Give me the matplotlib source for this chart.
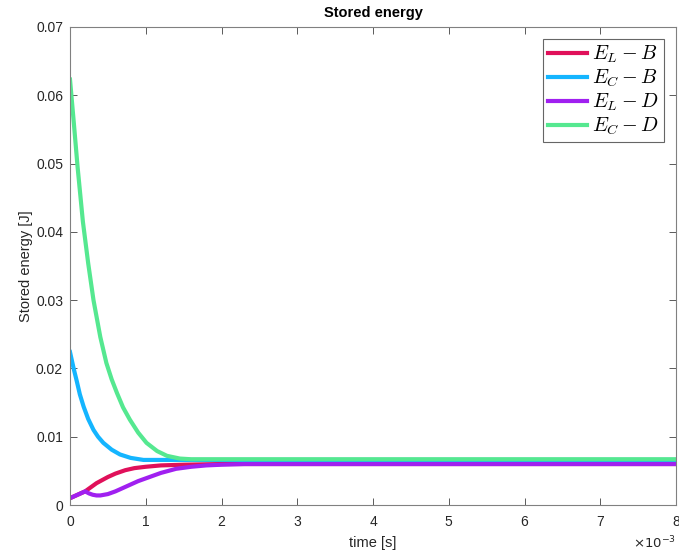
import matplotlib.pyplot as plt
import numpy as np

plt.rcParams['font.family'] = ['Liberation Sans', 'DejaVu Sans']
plt.rcParams['mathtext.fontset'] = 'cm'

# time in ms (axis shows x10^-3 s)
t_green = [0, 0.05, 0.1, 0.17, 0.24, 0.31, 0.4, 0.48, 0.55, 0.62, 0.7, 0.79, 0.9, 1.01, 1.15, 1.28, 1.45, 1.6, 1.8, 2.0, 3, 4, 5, 6, 7, 8]
e_c_d = [0.0623, 0.0560, 0.0495, 0.0415, 0.0354, 0.0300, 0.0246, 0.0208, 0.0184, 0.0164, 0.0143, 0.0125, 0.0106, 0.0091, 0.0079, 0.0072, 0.0068, 0.0067, 0.0067, 0.0067, 0.0067, 0.0067, 0.0067, 0.0067, 0.0067, 0.0067]

t_blue = [0, 0.02, 0.05, 0.088, 0.13, 0.18, 0.24, 0.31, 0.37, 0.44, 0.55, 0.66, 0.8, 0.97, 1.2, 1.5, 2.0, 3, 4, 5, 6, 7, 8]
e_c_b = [0.0224, 0.0214, 0.0199, 0.0182, 0.0162, 0.0144, 0.0126, 0.0110, 0.0100, 0.0091, 0.0081, 0.0074, 0.0069, 0.0066, 0.0066, 0.0066, 0.0066, 0.0066, 0.0066, 0.0066, 0.0066, 0.0066, 0.0066]

t_red = [0, 0.1, 0.2, 0.25, 0.3, 0.35, 0.4, 0.5, 0.6, 0.73, 0.85, 1.0, 1.2, 1.5, 2.0, 3, 4, 5, 6, 7, 8]
e_l_b = [0.0010, 0.0015, 0.0020, 0.0024, 0.0028, 0.0032, 0.0035, 0.0041, 0.0046, 0.0051, 0.0054, 0.0056, 0.0058, 0.0059, 0.0060, 0.0060, 0.0060, 0.0060, 0.0060, 0.0060, 0.0060]

t_purple = [0, 0.1, 0.2, 0.25, 0.3, 0.35, 0.4, 0.5, 0.6, 0.7, 0.8, 0.9, 1.0, 1.1, 1.2, 1.4, 1.6, 1.8, 2.0, 2.3, 3, 4, 5, 6, 7, 8]
e_l_d = [0.0010, 0.0015, 0.0020, 0.0017, 0.0015, 0.0014, 0.0014, 0.0016, 0.0020, 0.0025, 0.0030, 0.0035, 0.0039, 0.0043, 0.0047, 0.0053, 0.0056, 0.0058, 0.0059, 0.0060, 0.0060, 0.0060, 0.0060, 0.0060, 0.0060, 0.0060]

fig = plt.figure(figsize=(6.79, 5.5), dpi=100)
ax = fig.add_axes([0.1031, 0.0818, 0.8925, 0.8692])

ax.plot(t_red, e_l_b, color='#E0105A', lw=3, label='$E_L - B$')
ax.plot(t_blue, e_c_b, color='#14B5FF', lw=3, label='$E_C - B$')
ax.plot(t_purple, e_l_d, color='#A020F0', lw=3, label='$E_L - D$')
ax.plot(t_green, e_c_d, color='#55E890', lw=3, label='$E_C - D$')

ax.set_xlim(0, 8)
ax.set_ylim(0, 0.07)
ax.set_xticks(range(9))
ax.set_yticks(np.arange(0, 0.071, 0.01))
ax.set_yticklabels(['0', '0.01', '0.02', '0.03', '0.04', '0.05', '0.06', '0.07'])

for s in ax.spines.values():
    s.set_color('#808080')
    s.set_linewidth(0.8)
ax.tick_params(direction='in', top=True, right=True, length=5, width=0.6,
               color='#404040', labelsize=10, labelcolor='#262626')
ax.tick_params(axis='x', pad=7)
ax.tick_params(axis='y', pad=5)

ax.set_xlabel('time [s]', fontsize=10.5, color='#262626', labelpad=5)
ax.set_ylabel('Stored energy [J]', fontsize=10.5, color='#262626', labelpad=2)
ax.set_title('Stored energy', fontsize=10.5, fontweight='bold', color='black', pad=7)
ax.text(1.0, -0.062, r'$\times10^{-3}$', transform=ax.transAxes, ha='right', va='top',
        fontsize=9.5, color='#262626', math_fontfamily='dejavusans')

leg = ax.legend(loc='upper right', fontsize=14.5, handlelength=1.9, frameon=True,
                fancybox=False, edgecolor='#404040', borderaxespad=0.6,
                labelspacing=0.12, borderpad=0.25, handletextpad=0.25)
leg.get_frame().set_linewidth(0.8)

fig.savefig('out.png', dpi=100)
